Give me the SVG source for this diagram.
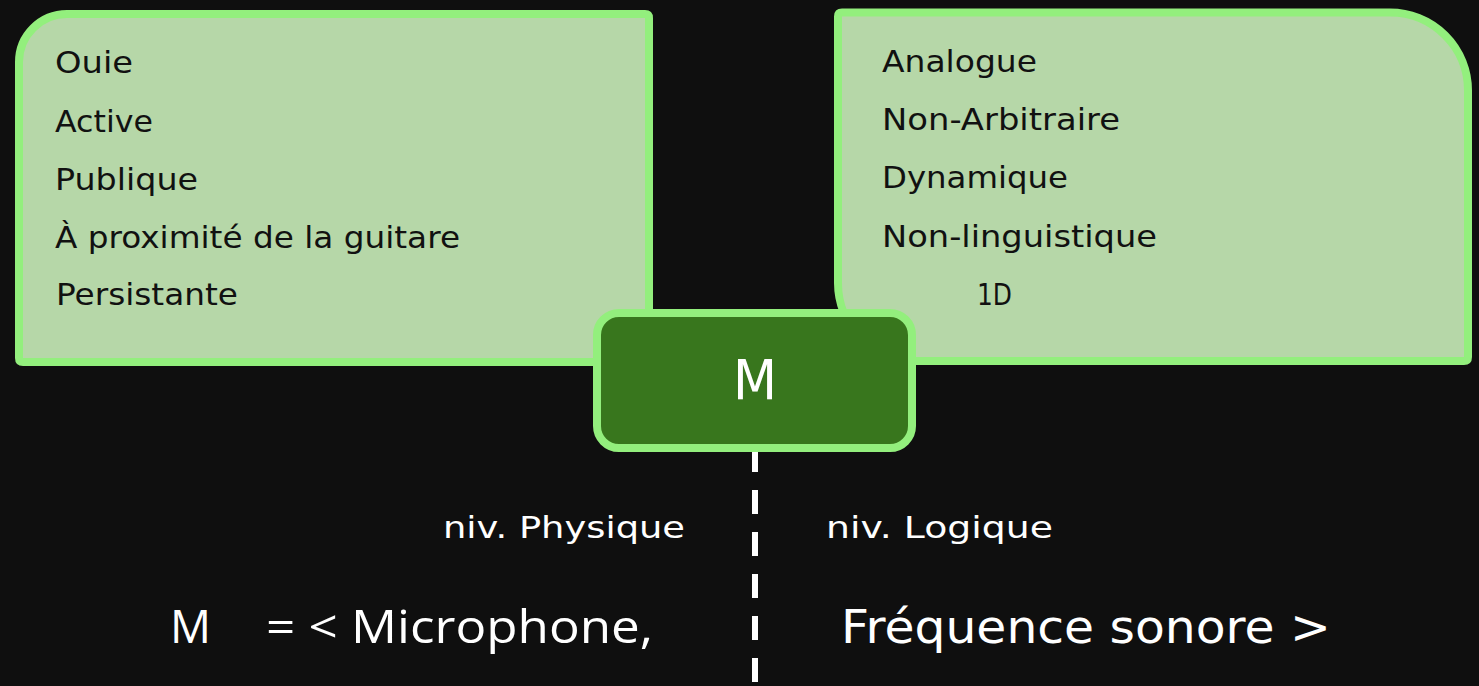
<svg xmlns="http://www.w3.org/2000/svg" width="1479" height="686" viewBox="0 0 1479 686">
<style>
.panel{fill:#b6d7a8;stroke:#93ef7d;stroke-width:8}
.lbl{font-family:"DejaVu Sans","Liberation Sans",sans-serif;font-size:30px;fill:#111}
.wlbl{font-family:"DejaVu Sans","Liberation Sans",sans-serif;fill:#fff}
.seg{font-family:"Open Sans","Liberation Sans",sans-serif;font-size:46px;fill:#fff}
</style>
<rect x="0" y="0" width="1479" height="686" fill="#0f0f0f"/>
<g id="connectors">
<line x1="755" y1="448" x2="755" y2="686" stroke="#ffffff" stroke-width="6" stroke-dasharray="24 18"/>
</g>
<g id="node-left">
<path class="panel" d="M67,14 H645 Q649,14 649,18 V358 Q649,362 645,362 H23 Q19,362 19,358 V62 A48,48 0 0 1 67,14 Z"/>
<text class="lbl" x="55" y="73" textLength="78" lengthAdjust="spacingAndGlyphs">Ouie</text>
<text class="lbl" x="55" y="132" textLength="98" lengthAdjust="spacingAndGlyphs">Active</text>
<text class="lbl" x="55" y="190" textLength="143" lengthAdjust="spacingAndGlyphs">Publique</text>
<text class="lbl" x="55" y="248" textLength="405" lengthAdjust="spacingAndGlyphs">À proximité de la guitare</text>
<text class="lbl" x="56" y="305" textLength="182" lengthAdjust="spacingAndGlyphs">Persistante</text>
</g>
<g id="node-right">
<path class="panel" d="M842,12.5 H1390 A78,78 0 0 1 1468,90.5 V357 Q1468,361 1464,361 H916 A78,78 0 0 1 838,283 V16.5 Q838,12.5 842,12.5 Z"/>
<text class="lbl" x="882" y="72" textLength="155" lengthAdjust="spacingAndGlyphs">Analogue</text>
<text class="lbl" x="882" y="130" textLength="238" lengthAdjust="spacingAndGlyphs">Non-Arbitraire</text>
<text class="lbl" x="882" y="188" textLength="186" lengthAdjust="spacingAndGlyphs">Dynamique</text>
<text class="lbl" x="882" y="247" textLength="275" lengthAdjust="spacingAndGlyphs">Non-linguistique</text>
<text class="lbl" x="977" y="305" textLength="35" lengthAdjust="spacingAndGlyphs">1D</text>
</g>
<g id="node-m">
<rect x="597" y="313" width="315" height="135" rx="22" ry="22" fill="#38761d" stroke="#93ef7d" stroke-width="8"/>
<text class="wlbl" x="733" y="399" font-size="56" textLength="44" lengthAdjust="spacingAndGlyphs">M</text>
</g>
<g id="labels">
<text class="wlbl" x="443" y="538" font-size="30" textLength="242" lengthAdjust="spacingAndGlyphs">niv. Physique</text>
<text class="wlbl" x="826" y="538" font-size="30" textLength="227" lengthAdjust="spacingAndGlyphs">niv. Logique</text>
<text class="seg" x="170" y="643" textLength="41" lengthAdjust="spacingAndGlyphs">M</text>
<text class="seg" x="266" y="643" textLength="387" lengthAdjust="spacingAndGlyphs">= &lt; Microphone,</text>
<text class="wlbl" x="841" y="643" font-size="46" textLength="490" lengthAdjust="spacingAndGlyphs">Fréquence sonore &gt;</text>
</g>
</svg>
